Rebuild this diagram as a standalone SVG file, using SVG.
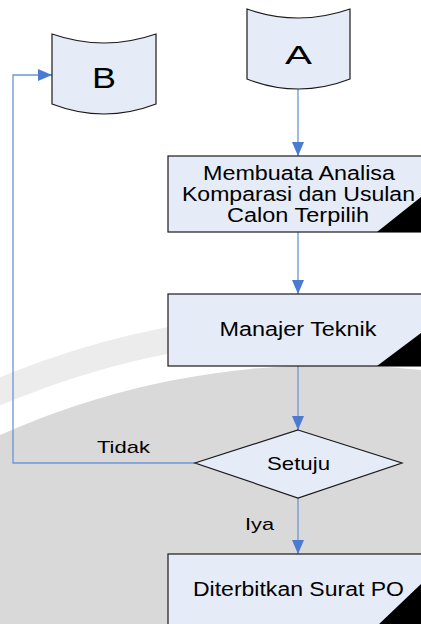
<svg xmlns="http://www.w3.org/2000/svg" width="421" height="624" viewBox="0 0 421 624">
<defs>
<style>
.shape{fill:#e6ecf7;stroke:#1a1a1a;stroke-width:1.2}
.corner{fill:#000}
.t{font-family:"Liberation Sans",Arial,sans-serif;fill:#000;text-anchor:middle}
.conn{fill:none;stroke:#6b96d6;stroke-width:1.3}
</style>
<marker id="ah" viewBox="0 0 14 12" refX="14" refY="6" markerWidth="14" markerHeight="12" markerUnits="userSpaceOnUse" orient="auto">
<path d="M0,0 L14,6 L0,12 Z" fill="#4a7bd0"/>
</marker>
<clipPath id="page"><rect x="0" y="0" width="421" height="624"/></clipPath>
</defs>
<rect x="0" y="0" width="421" height="624" fill="#ffffff"/>
<g id="background" clip-path="url(#page)">
<circle cx="330" cy="1178" r="853" fill="none" stroke="#ececec" stroke-width="26"/>
<circle cx="330" cy="1178" r="813" fill="#d9d9d9"/>
</g>
<g id="connectors">
<path class="conn" d="M298,89 V156" marker-end="url(#ah)"/>
<path class="conn" d="M298,232 V294" marker-end="url(#ah)"/>
<path class="conn" d="M298,366 V430" marker-end="url(#ah)"/>
<path class="conn" d="M298,498 V554" marker-end="url(#ah)"/>
<path class="conn" d="M195,463 H13 V75 H52" marker-end="url(#ah)"/>
<text class="t" x="123.5" y="453" font-size="17" textLength="53" lengthAdjust="spacingAndGlyphs">Tidak</text>
<text class="t" x="259.5" y="530" font-size="17" textLength="29" lengthAdjust="spacingAndGlyphs">Iya</text>
</g>
<g id="nodeA">
<path class="shape" d="M247,9 Q298.5,27 350,9 L350,79 Q298.5,99 247,79 Z"/>
<text class="t" x="298.5" y="64" font-size="25" textLength="27" lengthAdjust="spacingAndGlyphs">A</text>
</g>
<g id="nodeB">
<path class="shape" d="M52,34 Q104,52 156,34 L156,104 Q104,124 52,104 Z"/>
<text class="t" x="104" y="88" font-size="30" textLength="24" lengthAdjust="spacingAndGlyphs">B</text>
</g>
<g id="box1">
<rect class="shape" x="168" y="156" width="262" height="76"/>
<path class="corner" d="M377,232 L421,197 L421,232 Z"/>
<text class="t" x="299" y="180" font-size="20" textLength="192" lengthAdjust="spacingAndGlyphs">Membuata Analisa</text>
<text class="t" x="298.5" y="201" font-size="20" textLength="233" lengthAdjust="spacingAndGlyphs">Komparasi dan Usulan</text>
<text class="t" x="298" y="222" font-size="20" textLength="142" lengthAdjust="spacingAndGlyphs">Calon Terpilih</text>
</g>
<g id="box2">
<rect class="shape" x="168" y="294" width="262" height="72"/>
<path class="corner" d="M377,366 L421,333 L421,366 Z"/>
<text class="t" x="298" y="336" font-size="20" textLength="157" lengthAdjust="spacingAndGlyphs">Manajer Teknik</text>
</g>
<g id="decision">
<path class="shape" d="M298,430 L402,463 L298,498 L195,463 Z"/>
<text class="t" x="298.5" y="470" font-size="19" textLength="63" lengthAdjust="spacingAndGlyphs">Setuju</text>
</g>
<g id="box3">
<rect class="shape" x="168" y="554" width="262" height="80"/>
<path class="corner" d="M377,626 L421,584 L421,626 Z"/>
<text class="t" x="298.5" y="596" font-size="20" textLength="211" lengthAdjust="spacingAndGlyphs">Diterbitkan Surat PO</text>
</g>
</svg>
